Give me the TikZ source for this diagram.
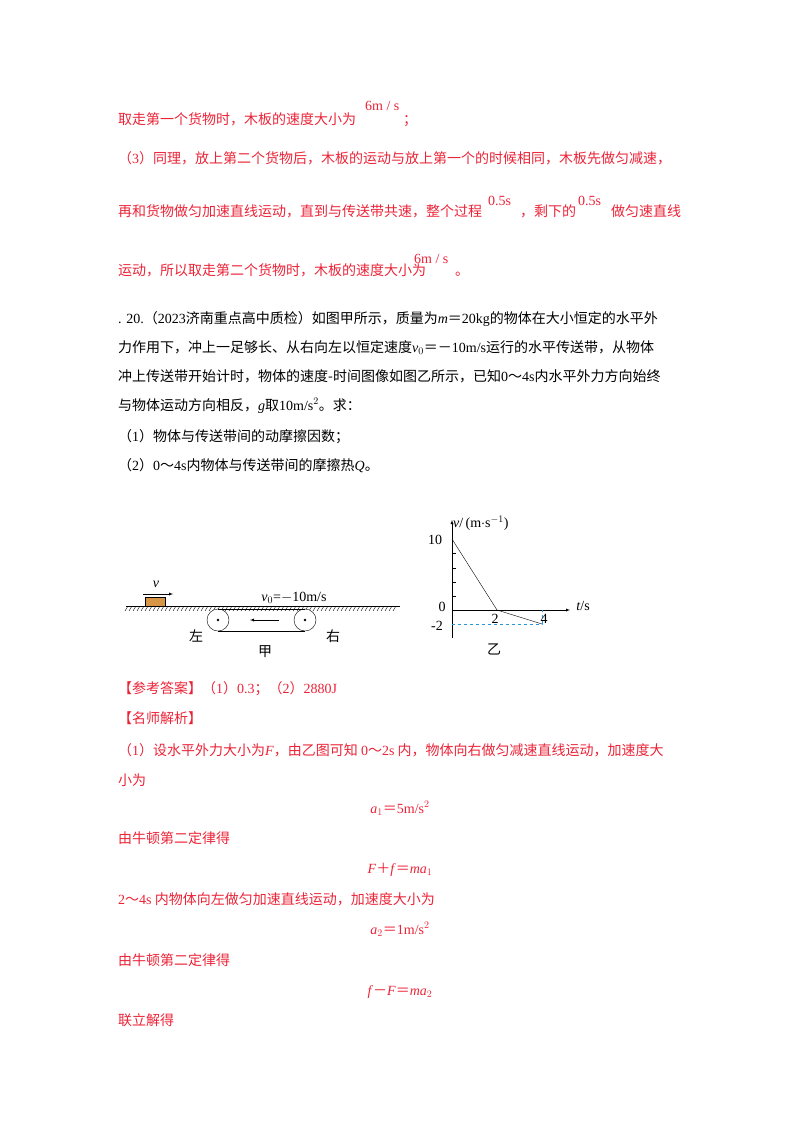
\documentclass[tikz,border=0pt]{standalone}
\usepackage{fontspec}
\setmainfont{Noto Sans CJK SC}
\newfontfamily\tm{Liberation Serif}
\newfontfamily\cjk{Noto Sans CJK SC}
\tikzset{txt/.style={anchor=base west,inner sep=0pt,font=\fontsize{14}{14}\selectfont},
red/.style={text=ansred},eq/.style={anchor=base,inner sep=0pt,font=\fontsize{14}{14}\selectfont\tm,text=ansred},
lab/.style={inner sep=0pt,font=\fontsize{14}{14}\selectfont\tm}}
\definecolor{ansred}{RGB}{235,35,55}
\definecolor{dashblue}{RGB}{40,150,220}
\definecolor{boxc}{RGB}{215,150,70}
\newcommand{\T}[1]{{\tm #1}}
\newcommand{\C}[1]{{\cjk #1}}
\begin{document}
\begin{tikzpicture}[x=1pt,y=-1pt]
\useasboundingbox (0,0) rectangle (800,1132);
\node[txt,red] (l1) at (118,124) {取走第一个货物时，木板的速度大小为};
\node[eq,anchor=base west] (s1) at (365,110) {6m / s};
\node[txt,red] (l1b) at (403,124) {；};
\node[txt,red] (l2) at (118,163) {（\T{3}）同理，放上第二个货物后，木板的运动与放上第一个的时候相同，木板先做匀减速，};
\node[txt,red] (l3) at (118,216) {再和货物做匀加速直线运动，直到与传送带共速，整个过程};
\node[eq,anchor=base west] (s2) at (488,205) {0.5s};
\node[txt,red] (l3b) at (520,216) {，剩下的};
\node[eq,anchor=base west] (s3) at (578,205) {0.5s};
\node[txt,red] (l3c) at (611,216) {做匀速直线};
\node[txt,red] (l4) at (118,275) {运动，所以取走第二个货物时，木板的速度大小为};
\node[eq,anchor=base west] (s4) at (414,263) {6m / s};
\node[txt,red] (l4b) at (455,275) {。};
\node[txt] (q1) at (118,323) {\T{. 20.}（\T{2023}济南重点高中质检）如图甲所示，质量为\T{\textit{m}}＝\T{20kg}的物体在大小恒定的水平外};
\node[txt] (q2) at (118,352) {力作用下，冲上一足够长、从右向左以恒定速度\T{\textit{v}$_0$}＝－\T{10m/s}运行的水平传送带，从物体};
\node[txt] (q3) at (118,381) {冲上传送带开始计时，物体的速度-时间图像如图乙所示，已知\T{0}～\T{4s}内水平外力方向始终};
\node[txt] (q4) at (118,410) {与物体运动方向相反，\T{\textit{g}}取\T{10m/s$^2$}。求：};
\node[txt] (q5) at (118,441) {（\T{1}）物体与传送带间的动摩擦因数；};
\node[txt] (q6) at (118,470) {（\T{2}）\T{0}～\T{4s}内物体与传送带间的摩擦热\T{\textit{Q}}。};
% figure jia
\draw[line width=0.8pt] (126,606) -- (400,606);
\foreach \x in {128,132,...,398} \draw[line width=0.4pt] (\x,606) -- (\x-3,611);
\node[draw,fill=boxc,minimum width=20pt,minimum height=9pt,inner sep=0pt,anchor=south] (box) at (155,606) {};
\node[lab,font=\fontsize{14}{14}\selectfont\tm\itshape] (v) at (156,584) {v};
\coordinate (va) at (143,594); \coordinate (vb) at (173,594);
\draw[-latex] (va) -- (vb);
\node[fill=white,draw,circle,minimum size=22pt,inner sep=0pt] (p1) at (218,620) {};
\node[fill=white,draw,circle,minimum size=22pt,inner sep=0pt] (p2) at (305,620) {};
\fill (p1) circle (1.3pt); \fill (p2) circle (1.3pt);
\draw (p1.south) -- (p2.south); \draw (p1.north) -- (p2.north);
\coordinate (ba) at (279,620); \coordinate (bb) at (250,620);
\draw[-latex] (ba) -- (bb);
\node[lab] (v0) at (294,598) {\textit{v}$_0$=$-$10m/s};
\node[lab,font=\fontsize{14}{14}\selectfont] (zuo) at (196,636) {左};
\node[lab,font=\fontsize{14}{14}\selectfont] (you) at (333,636) {右};
\node[lab,font=\fontsize{14}{14}\selectfont] (jia) at (265,652) {甲};
% graph yi
\coordinate (O) at (452,610);
\coordinate (ytop) at (452,520); \coordinate (ybot) at (452,638);
\coordinate (xend) at (570,610);
\draw[-latex] (ybot) -- (ytop);
\draw[-latex] (O) -- (xend);
\foreach \y in {553,568,582,596} \draw (452,\y) -- (456,\y);
\coordinate (A) at (452,539); \coordinate (B) at (497,610); \coordinate (C) at (542,624);
\draw (A) -- (B) -- (C);
\draw[dashblue,dashed] (452,624) -- (C) -- (542,610);
\node[lab,anchor=west] (vl) at (453,523) {\textit{v}/\,(m$\cdot$s$^{-1}$)};
\node[lab] (ten) at (435,540) {10};
\node[lab] (zero) at (442,607) {0};
\node[lab] (m2) at (437,626) {-2};
\node[lab] (two) at (495,619) {2};
\node[lab] (four) at (544,619) {4};
\node[lab] (ts) at (583,606) {\textit{t}/s};
\node[lab,font=\fontsize{14}{14}\selectfont] (yi) at (494,649) {乙};
% answer
\node[txt,red] (a1) at (118,693) {【参考答案】（\T{1}）\T{0.3}；（\T{2}）\T{2880J}};
\node[txt,red] (a2) at (118,723) {【名师解析】};
\node[txt,red] (a3) at (118,755) {（\T{1}）设水平外力大小为\T{\textit{F}}，由乙图可知 \T{0}～\T{2s} 内，物体向右做匀减速直线运动，加速度大};
\node[txt,red] (a4) at (118,785) {小为};
\node[eq] (e1) at (400,813) {\textit{a}$_1$\C{＝}5m/s$^2$};
\node[txt,red] (a5) at (118,843) {由牛顿第二定律得};
\node[eq] (e2) at (400,873) {\textit{F}\C{＋}\textit{f}\C{＝}\textit{ma}$_1$};
\node[txt,red] (a6) at (118,904) {\T{2}～\T{4s} 内物体向左做匀加速直线运动，加速度大小为};
\node[eq] (e3) at (400,934) {\textit{a}$_2$\C{＝}1m/s$^2$};
\node[txt,red] (a7) at (118,965) {由牛顿第二定律得};
\node[eq] (e4) at (400,995) {\textit{f}\C{－}\textit{F}\C{＝}\textit{ma}$_2$};
\node[txt,red] (a8) at (118,1025) {联立解得};
\end{tikzpicture}
\end{document}
